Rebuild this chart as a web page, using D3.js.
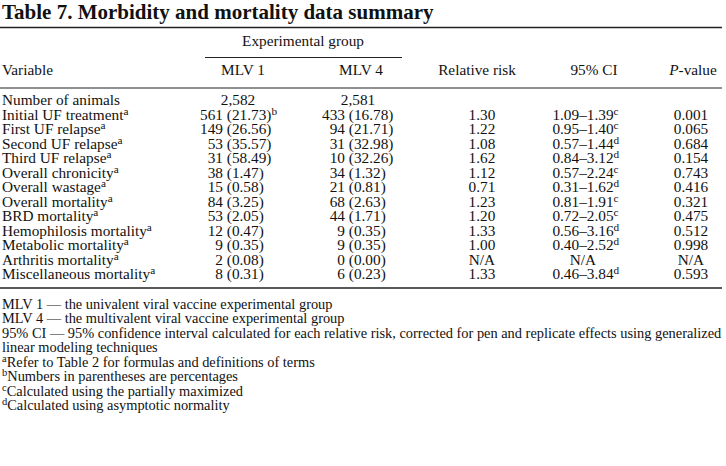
<!DOCTYPE html>
<html><head><meta charset="utf-8">
<script src="https://cdn.jsdelivr.net/npm/d3@7"></script>
<style>
html,body{margin:0;padding:0;background:#fff;}
svg{display:block;}
text{font-family:"Liberation Serif","Times New Roman",serif;fill:#111;}
</style></head>
<body>
<svg id="c" width="726" height="466"></svg>
<script>
const title = "Table 7. Morbidity and mortality data summary";
const headers = ["Variable", "MLV 1", "MLV 4", "Relative risk", "95% CI", "P-value"];
const groupHeader = "Experimental group";
const variables = ["Number of animals","Initial UF treatment","First UF relapse","Second UF relapse","Third UF relapse","Overall chronicity","Overall wastage","Overall mortality","BRD mortality","Hemophilosis mortality","Metabolic mortality","Arthritis mortality","Miscellaneous mortality"];
const varNotes = ["","a","a","a","a","a","a","a","a","a","a","a","a"];
const mlv1Count = [2582,561,149,53,31,38,15,84,53,12,9,2,8];
const mlv1Pct = [null,21.73,26.56,35.57,58.49,1.47,0.58,3.25,2.05,0.47,0.35,0.08,0.31];
const mlv1Notes = ["","b","","","","","","","","","","",""];
const mlv4Count = [2581,433,94,31,10,34,21,68,44,9,9,0,6];
const mlv4Pct = [null,16.78,21.71,32.98,32.26,1.32,0.81,2.63,1.71,0.35,0.35,0.00,0.23];
const mlv4Notes = ["","","","","","","","","","","","",""];
const relRisk = ["","1.30","1.22","1.08","1.62","1.12","0.71","1.23","1.20","1.33","1.00","N/A","1.33"];
const ciLow = [null,"1.09","0.95","0.57","0.84","0.57","0.31","0.81","0.72","0.56","0.40",null,"0.46"];
const ciHigh = [null,"1.39","1.40","1.44","3.12","2.24","1.62","1.91","2.05","3.16","2.52",null,"3.84"];
const ciNotes = ["","c","c","d","d","c","d","c","c","d","d","","d"];
const pValues = ["","0.001","0.065","0.684","0.154","0.743","0.416","0.321","0.475","0.512","0.998","N/A","0.593"];
const footSups = ["","","","","a","b","c","d"];
const footTexts = [
  "MLV 1 \u2014 the univalent viral vaccine experimental group",
  "MLV 4 \u2014 the multivalent viral vaccine experimental group",
  "95% CI \u2014 95% confidence interval calculated for each relative risk, corrected for pen and replicate effects using generalized",
  "linear modeling techniques",
  "Refer to Table 2 for formulas and definitions of terms",
  "Numbers in parentheses are percentages",
  "Calculated using the partially maximized",
  "Calculated using asymptotic normality"
];

const svg = d3.select("#c");
const FS = 14.3, SUP = 10.5, SUPDY = 5, K = 1.07;
const fmtCount = d3.format(",");
const fmtPct = d3.format(".2f");

// scales
const rowY = d3.scalePoint().domain(d3.range(variables.length)).range([105.5, 279.5]);
const colX = d3.scaleOrdinal().domain(["var","mlv1","mlv4","rr","ci","p"]).range([2, 223, 345, 482, 583, 691]);
const headX = d3.scaleOrdinal().domain(headers).range([2, 243, 361, 477, 594, 693]);
const firstX = d3.scaleOrdinal().domain(["mlv1","mlv4"]).range([238, 358]);
const footY = d3.scalePoint().domain(d3.range(footTexts.length)).range([309, 410.5]);

function measure(s, size){
  const t = svg.append("text").attr("font-size", size).text(s);
  const w = t.node().getComputedTextLength();
  t.remove();
  return w;
}
function addSup(t, s){
  if(!s) return;
  t.append("tspan").attr("font-size",SUP).attr("dy",-SUPDY).text(s);
}
function txt(x, y, anchor){
  return svg.append("text").attr("x",x).attr("y",y).attr("font-size",FS)
    .attr("text-anchor",anchor||"start")
    .attr("transform",`translate(${x*(1-K)},0) scale(${K},1)`);
}

// title
svg.append("text").attr("x",2).attr("y",18.5).attr("font-size",21).attr("font-weight","bold").text(title);

// rules
svg.append("line").attr("x1",0).attr("x2",722).attr("y1",27.5).attr("y2",27.5).attr("stroke","#222").attr("stroke-width",1.5);
svg.append("line").attr("x1",205).attr("x2",402).attr("y1",57.5).attr("y2",57.5).attr("stroke","#222").attr("stroke-width",1.2);
svg.append("line").attr("x1",0).attr("x2",722).attr("y1",88).attr("y2",88).attr("stroke","#222").attr("stroke-width",1.2);
svg.append("line").attr("x1",0).attr("x2",722).attr("y1",288).attr("y2",288).attr("stroke","#222").attr("stroke-width",1.5);

// headers
txt(303, 46.5, "middle").text(groupHeader);
headers.forEach((h,i)=>{
  const t = txt(headX(h), 75.5, i===0 ? "start" : "middle");
  if (h.startsWith("P-")) { t.append("tspan").attr("font-style","italic").text("P"); t.append("tspan").text(h.slice(1)); }
  else t.text(h);
});

// rows
variables.forEach((v,i)=>{
  const y = rowY(i);
  const t = txt(colX("var"), y);
  t.append("tspan").text(v);
  addSup(t, varNotes[i]);

  [[mlv1Count,mlv1Pct,mlv1Notes,"mlv1"],[mlv4Count,mlv4Pct,mlv4Notes,"mlv4"]].forEach(([cnt,pct,notes,key])=>{
    if (pct[i]===null){
      txt(firstX(key), y, "middle").text(fmtCount(cnt[i]));
    } else {
      const cs = String(cnt[i]);
      const x0 = colX(key) - K*measure(cs, FS);
      const c = txt(x0, y);
      c.append("tspan").text(cs + "\u00a0(" + fmtPct(pct[i]) + ")");
      addSup(c, notes[i]);
    }
  });

  txt(colX("rr"), y, "middle").text(relRisk[i]);
  if (i>0){
    const s = ciLow[i]===null ? "N/A" : ciLow[i] + "\u2013" + ciHigh[i];
    const w = K*measure(s, FS);
    const c = txt(colX("ci") - w/2, y);
    c.append("tspan").text(s);
    addSup(c, ciNotes[i]);
  }
  txt(colX("p"), y, "middle").text(pValues[i]);
});

// footnotes (condensed to fit width)
const fg = svg.append("g");
const lines = footTexts.map((f,i)=>{
  const t = fg.append("text").attr("x",2).attr("y",footY(i)).attr("font-size",FS);
  if (footSups[i]) t.append("tspan").attr("font-size",SUP).attr("dy",-SUPDY).text(footSups[i]);
  t.append("tspan").attr("dy", footSups[i] ? SUPDY : 0).text(f);
  return t;
});
const maxW = d3.max(lines, t=>t.node().getComputedTextLength());
const sx = 720/maxW;
lines.forEach(t=>t.attr("transform",`translate(2,0) scale(${sx},1) translate(-2,0)`));
</script>
</body></html>
